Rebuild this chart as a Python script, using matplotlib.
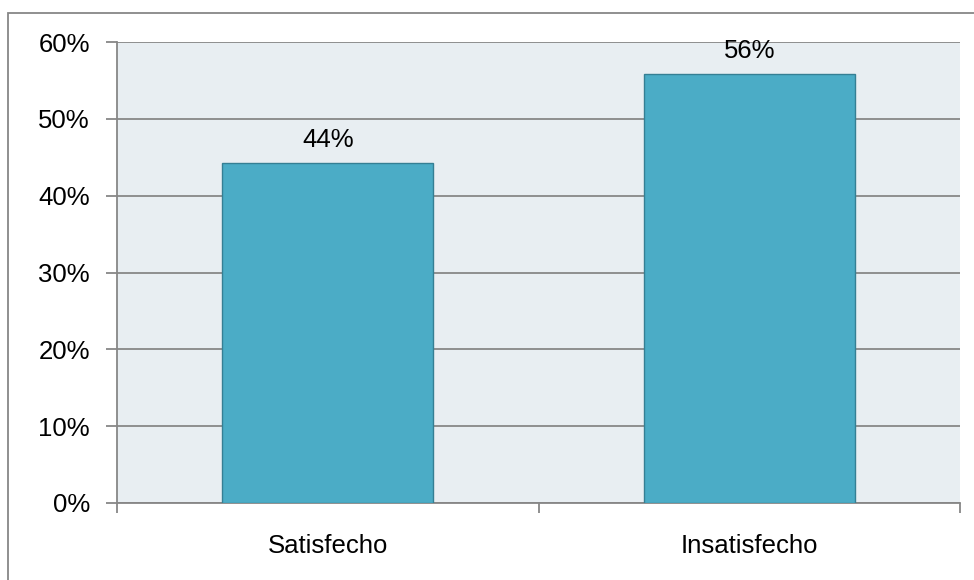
import matplotlib.pyplot as plt
from matplotlib.patches import Rectangle

categories = ['Satisfecho', 'Insatisfecho']
values = [44.2, 55.8]
labels = ['44%', '56%']
yticks = [0, 10, 20, 30, 40, 50, 60]

plt.rcParams['font.family'] = ['Liberation Sans', 'DejaVu Sans']

fig = plt.figure(figsize=(9.74, 5.80), dpi=100)
ax = fig.add_axes([117/974, 1 - 503/580, (960 - 117)/974, (503 - 42)/580])

# outer chart border (only left/top visible in the original crop)
fig.patches.append(Rectangle((8/974, -0.1), 1.2, 1 - 13/580 + 0.1, transform=fig.transFigure,
                             fill=False, edgecolor='#878787', linewidth=1.3))

ax.set_facecolor('#E8EEF2')
x = range(len(categories))
ax.bar(x, values, width=0.5, color='#4BACC6', edgecolor='#357F94', linewidth=1, zorder=3)
for i, v in enumerate(values):
    ax.annotate(labels[i], (i, v), xytext=(0, 17), textcoords='offset points',
                ha='center', va='center', fontsize=18.5, color='#000000')

ax.set_xlim(-0.5, 1.5)
ax.set_ylim(0, 60)
ax.set_yticks(yticks)
ax.set_yticklabels([f'{t}%' for t in yticks], fontsize=18.5)
ax.yaxis.grid(True, color='#878787', linewidth=1.3, zorder=0)
ax.set_axisbelow(True)

ax.set_xticks([-0.5, 0.5, 1.5])
ax.set_xticklabels([])
ax.set_xticks([0, 1], minor=True)
ax.set_xticklabels(categories, minor=True, fontsize=18.5)
ax.tick_params(axis='x', which='minor', length=0, pad=22)
ax.tick_params(axis='x', which='major', length=7, color='#878787', width=1.3)
ax.tick_params(axis='y', length=8, color='#878787', width=1.3, pad=11.5)

for s in ['top', 'right']:
    ax.spines[s].set_visible(False)
for s in ['left', 'bottom']:
    ax.spines[s].set_color('#878787')
    ax.spines[s].set_linewidth(1.3)

plt.savefig('out.png', dpi=100)
plt.close()
